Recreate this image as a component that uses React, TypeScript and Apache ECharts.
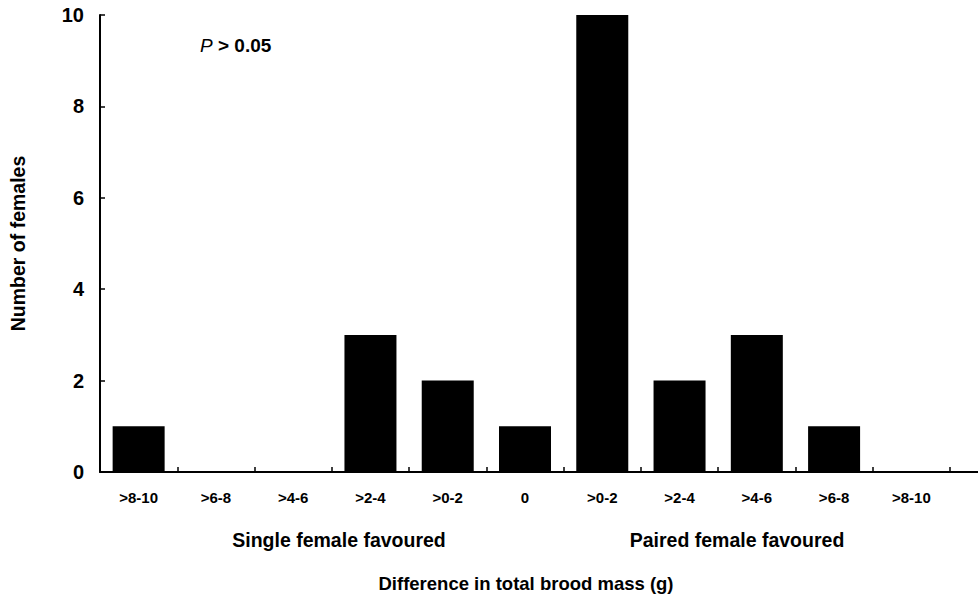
import React, { useEffect, useRef } from "react";
import * as echarts from "echarts";

const categories = [">8-10", ">6-8", ">4-6", ">2-4", ">0-2", "0", ">0-2", ">2-4", ">4-6", ">6-8", ">8-10"];
const females = [1, 0, 0, 3, 2, 1, 10, 2, 3, 1, 0];
const yTicks = [0, 2, 4, 6, 8, 10];
const sideLabels = ["Single female favoured", "Paired female favoured"];
const xTitle = "Difference in total brood mass (g)";
const yTitle = "Number of females";

const FONT = "Liberation Sans, Arial, Helvetica, sans-serif";
const W = 978;
const H = 596;
const GRID = { left: 99, right: 28, top: 15, bottom: 124 };

export default function App() {
  const ref = useRef<HTMLDivElement>(null);
  useEffect(() => {
    if (!ref.current) return;
    const chart = echarts.init(ref.current, null, { renderer: "svg" });
    const axisY = H - GRID.bottom;
    chart.setOption({
      animation: false,
      backgroundColor: "#ffffff",
      grid: { ...GRID, containLabel: false },
      xAxis: {
        type: "category",
        data: categories,
        axisLine: { show: true, lineStyle: { color: "#000", width: 2 } },
        axisTick: { show: true, inside: true, length: 5, alignWithLabel: false, lineStyle: { color: "#000", width: 1.5 } },
        axisLabel: { color: "#000", fontFamily: FONT, fontWeight: "bold", fontSize: 15, margin: 18, interval: 0 },
        splitLine: { show: false },
      },
      yAxis: {
        type: "value",
        min: yTicks[0],
        max: yTicks[yTicks.length - 1],
        interval: 2,
        name: yTitle,
        nameLocation: "middle",
        nameGap: 72,
        nameRotate: 90,
        nameTextStyle: { color: "#000", fontFamily: FONT, fontWeight: "bold", fontSize: 19.5 },
        axisLine: { show: true, lineStyle: { color: "#000", width: 2 } },
        axisTick: { show: true, inside: true, length: 5, lineStyle: { color: "#000", width: 1.5 } },
        axisLabel: { color: "#000", fontFamily: FONT, fontWeight: "bold", fontSize: 20, margin: 16 },
        splitLine: { show: false },
      },
      series: [
        {
          type: "bar",
          data: females,
          barWidth: 52,
          itemStyle: { color: "#000" },
          silent: true,
        },
      ],
      graphic: [
        {
          type: "line",
          shape: { x1: W - GRID.right - 1, y1: axisY, x2: W, y2: axisY },
          style: { stroke: "#000", lineWidth: 2 },
          silent: true,
        },
        {
          type: "text",
          left: 200,
          top: 36,
          style: {
            rich: {
              p: { fontStyle: "italic", fontFamily: FONT, fontSize: 19, fill: "#000" },
              r: { fontWeight: "bold", fontFamily: FONT, fontSize: 19, fill: "#000" },
            },
            text: "{p|P}{r| > 0.05}",
          },
        },
        {
          type: "text",
          x: 339,
          y: 540,
          style: { text: sideLabels[0], fontFamily: FONT, fontWeight: "bold", fontSize: 19.5, fill: "#000", align: "center", verticalAlign: "middle" },
        },
        {
          type: "text",
          x: 737,
          y: 540,
          style: { text: sideLabels[1], fontFamily: FONT, fontWeight: "bold", fontSize: 19.5, fill: "#000", align: "center", verticalAlign: "middle" },
        },
        {
          type: "text",
          x: 526,
          y: 583,
          style: { text: xTitle, fontFamily: FONT, fontWeight: "bold", fontSize: 18.5, fill: "#000", align: "center", verticalAlign: "middle" },
        },
      ],
    });
    return () => chart.dispose();
  }, []);
  return <div ref={ref} style={{ width: W, height: H, position: "absolute", left: 0, top: 0 }} />;
}
